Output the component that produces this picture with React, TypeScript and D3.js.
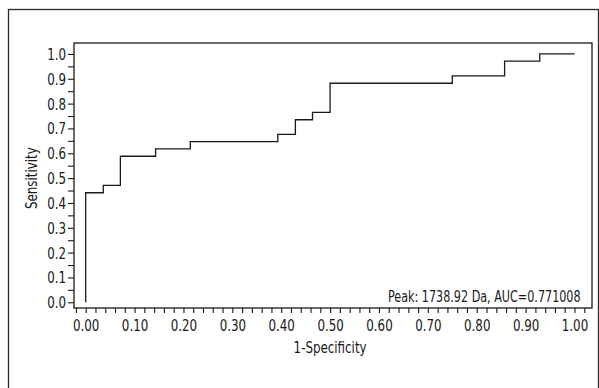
import { useEffect, useRef } from 'react';
import * as d3 from 'd3';

// ROC points (1-specificity, sensitivity)
const fpr = [0, 0, 0.036, 0.071, 0.143, 0.214, 0.393, 0.429, 0.464, 0.5, 0.75, 0.857, 0.929, 1.0];
const tpr = [0, 0.441, 0.471, 0.588, 0.618, 0.647, 0.676, 0.735, 0.765, 0.882, 0.912, 0.971, 1.0, 1.0];

const xTickValues = [0, 0.1, 0.2, 0.3, 0.4, 0.5, 0.6, 0.7, 0.8, 0.9, 1.0];
const yTickValues = [0, 0.1, 0.2, 0.3, 0.4, 0.5, 0.6, 0.7, 0.8, 0.9, 1.0];
const annotation = 'Peak: 1738.92 Da, AUC=0.771008';

const FONT = '"DejaVu Sans Condensed", "DejaVu Sans", sans-serif';
const SQUEEZE = 0.88; // narrow the glyphs, the original uses a condensed face
const INK = '#1a1a1a';

const App = () => {
  const ref = useRef<SVGSVGElement>(null);

  useEffect(() => {
    if (!ref.current) return;
    const svg = d3.select(ref.current);
    svg.selectAll('*').remove();

    const box = { left: 74, right: 592, top: 43, bottom: 308 };

    const x = d3.scaleLinear().domain([-0.0239, 1.0358]).range([box.left, box.right]);
    const y = d3.scaleLinear().domain([-0.023, 1.044]).range([box.bottom, box.top]);

    // outer frame
    svg.append('rect')
      .attr('x', 8.5).attr('y', 9.5)
      .attr('width', 590).attr('height', 420)
      .attr('fill', 'none').attr('stroke', '#2a2a2a').attr('stroke-width', 1.3);

    // plot frame
    svg.append('rect')
      .attr('x', box.left).attr('y', box.top)
      .attr('width', box.right - box.left).attr('height', box.bottom - box.top)
      .attr('fill', 'none').attr('stroke', INK).attr('stroke-width', 1.3);

    // small ticks
    const xMinor = d3.range(-0.02, 1.021, 0.02);
    const yMinor = d3.range(0, 1.001, 0.05);

    svg.append('g')
      .attr('transform', `translate(0,${box.bottom})`)
      .call(d3.axisBottom(x).tickValues(xMinor).tickSize(5).tickFormat(() => ''))
      .call(g => g.select('.domain').remove())
      .call(g => g.selectAll('.tick line').attr('stroke', INK).attr('stroke-width', 1.1));

    svg.append('g')
      .attr('transform', `translate(${box.left},0)`)
      .call(d3.axisLeft(y).tickValues(yMinor).tickSize(6).tickFormat(() => ''))
      .call(g => g.select('.domain').remove())
      .call(g => g.selectAll('.tick line').attr('stroke', INK).attr('stroke-width', 1.1));

    // tick labels
    svg.append('g')
      .attr('transform', `translate(0,${box.bottom})`)
      .call(d3.axisBottom(x).tickValues(xTickValues).tickSize(0).tickPadding(23.5).tickFormat(d3.format('.2f')))
      .call(g => g.select('.domain').remove())
      .call(g => g.selectAll('text')
        .attr('dy', 0)
        .attr('transform', `scale(${SQUEEZE},1)`)
        .style('font-family', FONT).style('font-size', '15px').style('fill', INK));

    svg.append('g')
      .attr('transform', `translate(${box.left - 8},0)`)
      .call(d3.axisLeft(y).tickValues(yTickValues).tickSize(0).tickPadding(0).tickFormat(d3.format('.1f')))
      .call(g => g.select('.domain').remove())
      .call(g => g.selectAll('text')
        .attr('x', 0)
        .attr('dy', '0.36em')
        .attr('transform', `scale(${SQUEEZE},1)`)
        .style('font-family', FONT).style('font-size', '15px').style('fill', INK));

    const label = (tx: number, ty: number, rot: number, anchor: string, txt: string, sq = SQUEEZE) => {
      svg.append('g')
        .attr('transform', `translate(${tx},${ty}) rotate(${rot})`)
        .append('text')
        .attr('transform', `scale(${sq},1)`)
        .attr('text-anchor', anchor)
        .style('font-family', FONT).style('font-size', '15px').style('fill', INK)
        .text(txt);
    };

    // axis titles
    label(x(0.5), 353, 0, 'middle', '1-Specificity');
    label(37, y(0.5), -90, 'middle', 'Sensitivity');

    // ROC step curve
    const pts = fpr.map((f, i) => [f, tpr[i]] as [number, number]);
    const line = d3.line<[number, number]>()
      .x(d => x(d[0]))
      .y(d => y(d[1]))
      .curve(d3.curveStepAfter);

    svg.append('path')
      .attr('d', line(pts))
      .attr('fill', 'none')
      .attr('stroke', INK)
      .attr('stroke-width', 1.3);

    // annotation in the lower right corner of the plot
    label(388, 301.5, 0, 'start', annotation, 0.83);
  }, []);

  return (
    <svg
      ref={ref}
      width={599}
      height={388}
      style={{ position: 'absolute', left: 0, top: 0, background: '#fff' }}
    />
  );
};

export default App;
